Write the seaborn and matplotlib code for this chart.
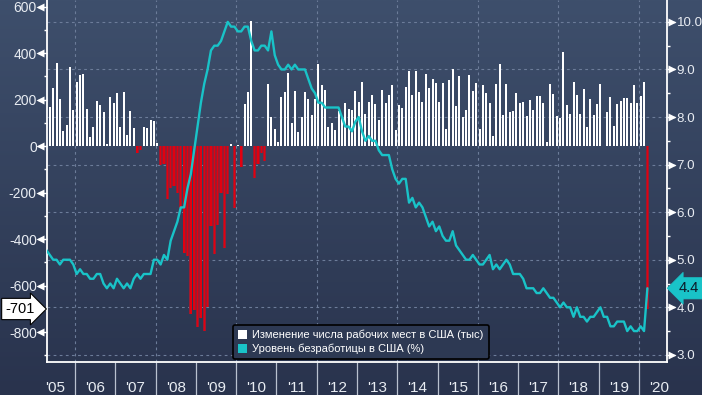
import numpy as np
import pandas as pd
import matplotlib
matplotlib.use("Agg")
import matplotlib.pyplot as plt
import matplotlib.transforms as mtrans
from matplotlib.patches import Patch
from matplotlib.ticker import FixedLocator, NullFormatter
from matplotlib.colors import LinearSegmentedColormap
import seaborn as sns

# ---------------- data ----------------
start_month = "2005-04-01"
payrolls = [
    # 2005 Apr-Dec
    361, 169, 251, 358, 202, 65, 90, 341, 155,
    # 2006
    275, 305, 310, 159, 40, 83, 194, 177, 148, 9, 211, 183,
    # 2007
    230, 83, 232, 47, 151, 79, -30, -16, 82, 77, 112, 108,
    # 2008
    12, -80, -78, -230, -180, -170, -200, -266, -460, -475, -722, -706,
    # 2009
    -777, -738, -794, -694, -345, -465, -340, -200, -440, -208, 10, -265,
    # 2010
    5, -90, 181, 233, 538, -136, -79, -30, -63, 267, 124, 73,
    # 2011
    19, 211, 232, 314, 100, 237, 61, 125, 232, 201, 133, 201,
    # 2012
    353, 262, 241, 82, 99, 71, 150, 120, 186, 159, 155, 237,
    # 2013
    189, 275, 138, 189, 219, 181, 112, 241, 186, 219, 262, 69,
    # 2014
    176, 163, 254, 323, 219, 323, 232, 189, 310, 250, 288, 271,
    # 2015
    189, 271, 73, 284, 331, 172, 301, 125, 155, 305, 237, 271,
    # 2016
    73, 262, 228, 185, 43, 267, 353, 133, 267, 148, 152, 228,
    # 2017
    186, 189, 129, 198, 155, 215, 215, 186, 17, 267, 224, 129,
    # 2018
    120, 404, 176, 138, 275, 219, 138, 245, 82, 202, 133, 181,
    # 2019
    267, 1, 146, 211, 86, 181, 194, 206, 206, 185, 261, 185,
    # 2020 Jan-Mar
    215, 275, -701,
]
unemployment = [
    5.2, 5.1, 5.0, 5.0, 4.9, 5.0, 5.0, 5.0, 4.9,
    4.7, 4.8, 4.7, 4.7, 4.6, 4.6, 4.7, 4.7, 4.5, 4.4, 4.5, 4.4,
    4.6, 4.5, 4.4, 4.5, 4.4, 4.6, 4.7, 4.6, 4.7, 4.7, 4.7, 5.0,
    5.0, 4.9, 5.1, 5.0, 5.4, 5.6, 5.8, 6.1, 6.1, 6.5, 6.8, 7.3,
    7.8, 8.3, 8.7, 9.0, 9.4, 9.5, 9.5, 9.6, 9.8, 10.0, 9.9, 9.9,
    9.8, 9.8, 9.9, 9.9, 9.6, 9.4, 9.4, 9.5, 9.5, 9.4, 9.8, 9.3,
    9.1, 9.0, 9.0, 9.1, 9.0, 9.1, 9.0, 9.0, 9.0, 8.8, 8.6, 8.5,
    8.3, 8.3, 8.2, 8.2, 8.2, 8.2, 8.2, 8.0, 7.8, 7.8, 7.7, 7.9,
    8.0, 7.7, 7.5, 7.6, 7.5, 7.5, 7.3, 7.2, 7.2, 7.2, 6.9, 6.7,
    6.6, 6.7, 6.7, 6.2, 6.3, 6.1, 6.2, 6.1, 5.9, 5.7, 5.8, 5.6,
    5.7, 5.5, 5.4, 5.4, 5.6, 5.3, 5.2, 5.1, 5.0, 5.0, 5.1, 5.0,
    4.9, 4.9, 5.0, 5.1, 4.8, 4.9, 4.8, 4.9, 5.0, 4.9, 4.7, 4.7,
    4.7, 4.6, 4.4, 4.4, 4.4, 4.3, 4.3, 4.4, 4.3, 4.2, 4.2, 4.1,
    4.0, 4.1, 4.0, 4.0, 3.8, 4.0, 3.8, 3.8, 3.7, 3.8, 3.8, 3.9,
    4.0, 3.8, 3.8, 3.6, 3.6, 3.7, 3.7, 3.7, 3.5, 3.6, 3.5, 3.5,
    3.6, 3.5, 4.4,
]
years = list(range(2005, 2021))
year_labels = ["'05", "'06", "'07", "'08", "'09", "'10", "'11", "'12",
               "'13", "'14", "'15", "'16", "'17", "'18", "'19", "'20"]
left_ticks = [-800, -600, -400, -200, 0, 200, 400, 600]
right_ticks = [3.0, 4.0, 5.0, 6.0, 7.0, 8.0, 9.0, 10.0]
legend_labels = ["Изменение числа рабочих мест в США (тыс)",
                 "Уровень безработицы в США (%)"]
last_payroll_label = "-701"
last_unemp_label = "4.4"

# ---------------- styling ----------------
sns.set_style("ticks")
plt.rcParams["font.family"] = ["Liberation Sans Narrow", "Liberation Sans", "DejaVu Sans"]
plt.rcParams["axes.unicode_minus"] = False

BG_TOP = "#3e4f6c"
BG_BOT = "#29334d"
CYAN = "#19c3c8"
RED_BRIGHT = "#e3000f"
RED_DARK = "#9c1a30"
GRID = "#6c7c99"
TXT = "#e8ecf2"

dates = pd.date_range(start_month, periods=len(payrolls), freq="MS")
xpos = np.asarray(dates.year + (dates.month - 0.5) / 12.0, dtype=float)
pay = np.asarray(payrolls, dtype=float)
une = np.asarray(unemployment, dtype=float)

W, H = 702, 395
fig = plt.figure(figsize=(W / 100, H / 100), dpi=100)

# background gradient
bg = fig.add_axes([0, 0, 1, 1], zorder=-10)
grad = np.linspace(0, 1, 256).reshape(-1, 1)
cmap = LinearSegmentedColormap.from_list("bg", [BG_TOP, BG_BOT])
bg.imshow(grad, aspect="auto", cmap=cmap, extent=[0, 1, 0, 1], origin="upper")
bg.set_axis_off()

L, R, B, T = 47, 667, 362, 0
ax = fig.add_axes([L / W, 1 - B / H, (R - L) / W, (B - T) / H])
ax.patch.set_alpha(0)
ax2 = ax.twinx()
ax2.patch.set_alpha(0)

xlim = (2005.305, 2020.695)
ylim_left = (-929, 628)
ylim_right = (2.85, 10.46)

# bars
pos = pay >= 0
neg = ~pos
sns.barplot(x=xpos[pos], y=pay[pos], native_scale=True, orient="x", color="white",
            saturation=1, width=0.6, errorbar=None, ax=ax, linewidth=0, zorder=3)
sns.barplot(x=xpos[neg], y=pay[neg], native_scale=True, orient="x", color=RED_DARK,
            saturation=1, width=0.95, errorbar=None, ax=ax, linewidth=0, zorder=3)
sns.barplot(x=xpos[neg], y=pay[neg], native_scale=True, orient="x", color=RED_BRIGHT,
            saturation=1, width=0.42, errorbar=None, ax=ax, linewidth=0, zorder=3)

# line
sns.lineplot(x=xpos, y=une, ax=ax2, color=CYAN, linewidth=1.7, zorder=5)

ax.set_xlim(*xlim)
ax.set_ylim(*ylim_left)
ax2.set_ylim(*ylim_right)
ax.set_xlabel("")
ax.set_ylabel("")
ax2.set_xlabel("")
ax2.set_ylabel("")

# grid lines
blend_h = mtrans.blended_transform_factory(ax.transAxes, ax2.transData)
for r in right_ticks:
    ax.plot([0, 1], [r, r], transform=blend_h, color=GRID, lw=0.8,
            ls=(0, (2.5, 3)), zorder=1)
for yr in years:
    if yr % 2 == 0 and xlim[0] < yr < xlim[1]:
        ax.axvline(yr, color=GRID, lw=0.8, ls=(0, (2.5, 3)), zorder=1)

# spines
for s in ["top", "right"]:
    ax.spines[s].set_visible(False)
for s in ["top", "left", "bottom"]:
    ax2.spines[s].set_visible(False)
for sp in [ax.spines["left"], ax.spines["bottom"], ax2.spines["right"]]:
    sp.set_color("white")
    sp.set_linewidth(1.3)

# left y axis
ax.yaxis.set_major_locator(FixedLocator(left_ticks))
ax.set_yticklabels([str(v) for v in left_ticks])
ax.yaxis.set_minor_locator(FixedLocator([v + 100 for v in left_ticks[:-1]] + [-900]))
ax.tick_params(axis="y", which="major", direction="out", length=6.5, width=1.0,
               color="white", pad=0.8, labelsize=10, labelcolor=TXT)
ax.tick_params(axis="y", which="minor", direction="out", length=2.5, width=1.0, color="white")
blend_l = mtrans.blended_transform_factory(ax.transAxes, ax.transData)
ax.plot(np.full(len(left_ticks), -7.5 / (R - L)), left_ticks, ls="none", marker="<",
        ms=5.5, color="white", mec="none", transform=blend_l, clip_on=False, zorder=6)

# right y axis
ax2.yaxis.set_major_locator(FixedLocator(right_ticks))
ax2.set_yticklabels([f"{v:.1f}" for v in right_ticks])
ax2.yaxis.set_minor_locator(FixedLocator([v + 0.5 for v in right_ticks[:-1]]))
ax2.tick_params(axis="y", which="major", direction="out", length=6.0, width=1.0,
                color="white", pad=0.9, labelsize=9.6, labelcolor=TXT)
ax2.tick_params(axis="y", which="minor", direction="out", length=2.5, width=1.0, color="white")
blend_r = mtrans.blended_transform_factory(ax2.transAxes, ax2.transData)
ax2.plot(np.full(len(right_ticks), 1 + 5.0 / (R - L)), right_ticks, ls="none", marker=">",
         ms=5.5, color="white", mec="none", transform=blend_r, clip_on=False, zorder=6)

# x axis
ax.xaxis.set_major_locator(FixedLocator([y for y in years if xlim[0] < y < xlim[1]]))
ax.xaxis.set_major_formatter(NullFormatter())
ax.xaxis.set_minor_locator(FixedLocator([y + 0.5 for y in years]))
ax.set_xticklabels(year_labels, minor=True)
ax.tick_params(axis="x", which="major", direction="out", length=25, width=0.9, color="#b9c1cf")
ax.tick_params(axis="x", which="minor", length=0, pad=13.5, labelsize=11, labelcolor=TXT)

# value tags
blend_fl = mtrans.blended_transform_factory(fig.transFigure, ax.transData)
ax.text(20 / W, pay[-1], last_payroll_label, transform=blend_fl, ha="center", va="center",
        fontsize=10.5, color="black", clip_on=False, zorder=10,
        bbox=dict(boxstyle="rarrow,pad=0.25", fc="white", ec="black", lw=0.8))
blend_fr = mtrans.blended_transform_factory(fig.transFigure, ax2.transData)
ax2.text(689 / W, une[-1], last_unemp_label, transform=blend_fr, ha="center", va="center",
         fontsize=10.5, color="#0c1a28", clip_on=False, zorder=10,
         bbox=dict(boxstyle="larrow,pad=0.25", fc=CYAN, ec=CYAN, lw=0.5))

# legend
handles = [Patch(facecolor="white", edgecolor="none"), Patch(facecolor=CYAN, edgecolor="none")]
leg = ax2.legend(handles, legend_labels, loc="lower left",
                 bbox_to_anchor=(233 / W, 1 - 359 / H), bbox_transform=fig.transFigure,
                 borderaxespad=0, frameon=True, fancybox=True, framealpha=1,
                 facecolor="#2d3953", edgecolor="black",
                 handlelength=0.85, handleheight=0.85, handletextpad=0.45,
                 borderpad=0.45, labelspacing=0.3,
                 prop={"family": ["Liberation Sans", "DejaVu Sans"], "size": 8})
for t in leg.get_texts():
    t.set_color("white")
leg.get_frame().set_linewidth(1.2)
leg.set_zorder(20)

fig.savefig("out.png", dpi=100)
